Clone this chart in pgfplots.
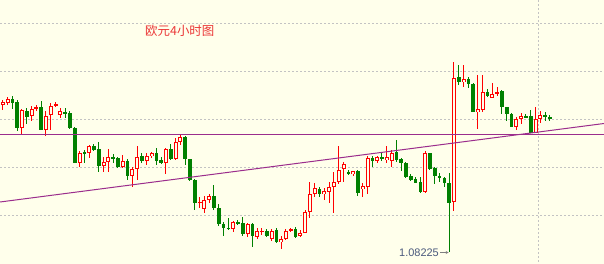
\documentclass[border=0pt]{standalone}
\usepackage{pgfplots}
\usepackage{pgfplotstable}
\pgfplotsset{compat=1.18}
\usetikzlibrary{arrows.meta}
\usepackage{fontspec}
\setmainfont{Liberation Sans}
\newfontfamily\cjk{Noto Sans CJK SC}
\definecolor{bgc}{RGB}{255,255,235}
\definecolor{upc}{RGB}{255,0,0}
\definecolor{dnc}{RGB}{0,128,0}
\definecolor{linec}{RGB}{155,45,140}
\definecolor{gridc}{RGB}{195,195,195}
\definecolor{titlec}{RGB}{235,55,55}
\definecolor{numc}{RGB}{75,90,125}

% pixel-based y (top = 0), x = pixel column
\pgfplotstableread{
x o h l c
2.7 105 100 110.5 102
7.5 102.7 97 104.7 99.3
21.9 128 109 134 110.5
31.5 116.3 106.3 120.7 109.3
36.3 109.3 105.3 110.7 107.3
45.9 129.7 111.3 135.5 116.3
50.7 115.3 103 130 106
55.5 105.5 102 107.3 104.5
60.3 114.7 108 118 111.3
79.5 162.7 150.7 166.7 152.7
89.1 153.3 145 157.7 146
103.5 166 156.7 171.7 162.3
108.3 162.3 149.3 171.7 157
122.7 167.3 155 168.3 160.7
132.3 176 166.7 186.7 169
137.1 169 146 180 156.7
146.7 161 152.7 165 155.5
151.5 155.7 151.5 157.7 153.3
165.9 162.5 147.7 174 149.2
175.5 159.3 138.3 160 142
180.3 142.3 134.3 145 137.2
199.5 202.7 196.7 208.3 201.5
204.3 209.3 195.7 213 199.8
209.1 200 194 203.3 196
233.1 229.2 220.5 231.5 222.2
247.5 234 222.7 236.5 224
257.1 236.5 227.5 238.5 231
261.9 231.8 227.5 235 231
271.5 239 228.5 240.5 230.5
281.1 241.7 236 249.3 239.3
285.9 239.3 229.3 240 231
290.7 230.7 228.3 232 229.3
300.3 236.3 230 237 232.5
305.1 232.5 210 233 211.7
309.9 211.7 181.7 218.3 194
314.7 194 183.3 196.7 188.3
324.3 194 188.3 200 191.3
329.1 191.7 181.7 203.3 186.7
333.9 186.7 172 213.3 181.7
338.7 182 146 184 169.5
343.5 169.3 161.5 182 163.8
353.1 174 170.5 175.5 171.3
362.7 189.3 182.7 196.7 186
367.5 186.5 156.3 194 157.7
377.1 161 156 162.5 157
386.7 160 146 163.3 157.3
391.5 160.7 150 166.7 152.7
425.1 191.7 150.5 193.3 153
453.9 201.7 62 210.5 77.5
463.5 82.3 65 86.7 79.3
477.9 112 75 129.3 109.3
482.7 110 74.5 111.7 92
492.3 97.7 82.7 98 94
497.1 94.3 87.3 95.7 92.3
516.3 126.7 116.7 130 119.3
521.1 119 112.7 124 116
535.5 132.7 107.3 133.3 119.3
540.3 119 111 123.3 115
}\bull

\pgfplotstableread{
x o h l c
12.3 99 96 108.7 102.7
17.1 102 100 131 128
26.7 111 108 124 117
41.1 107.3 101 130.3 129.5
65.1 112 108 118 114
69.9 113.3 111.3 129 128.2
74.7 127.7 127 163 162.7
84.3 152.5 150 163.3 153.5
93.9 146 144 150.7 150
98.7 149.3 141.7 171.7 166
113.1 156.7 154.3 162.7 159.3
117.9 158.3 156.7 168 167.3
127.5 160.5 159.3 180 175.8
141.9 156 153 162.5 161
156.3 153.3 148.3 165 160.5
161.1 160 157 163.5 162.7
170.7 149.2 144.3 160 158.5
185.1 136.8 135.7 165 159.3
189.9 159.3 158.5 181 180
194.7 180 179 210 203
213.9 196 185 209.5 208.3
218.7 208.3 203.5 226 224.2
223.5 224.2 221.7 235.5 228.3
228.3 227.7 218.3 230 228.7
237.9 222.5 219.5 225 223.5
242.7 222.8 216.7 235.5 233.7
252.3 224 223.3 247 236
266.7 230.5 229.3 237.3 235.5
276.3 229.5 228.3 243.3 241.7
295.5 228.7 227.3 238.3 236.7
319.5 189.3 187.3 196.7 194.3
348.3 171.7 170 175 174.2
357.9 171 170 196 193
372.3 157.7 156 166.7 161
381.9 156.7 153 161 159.3
396.3 151.7 140 161.7 160
401.1 158.8 158.3 170.7 163
405.9 162.5 161.7 178.3 176.7
410.7 176.2 174 181 180
415.5 178.7 177 183 182.5
420.3 181.5 176.7 192.7 191.7
429.9 153.3 153 169.5 168.5
434.7 167.5 166.7 184 175.7
439.5 175.5 173.3 182 178
444.3 178 176.7 187.3 183.3
449.1 183.3 172.5 251.7 202.5
458.7 77.3 64.5 85 81.7
468.3 78.5 76.7 88.3 84.3
473.1 84.2 83.3 112.5 111.8
487.5 92.3 89.3 96.7 96
501.9 90.7 90.5 114 107.3
506.7 107.3 106.7 120.7 114
511.5 114 113.3 127.3 126.7
525.9 116 114 118.5 117.3
530.7 116 110 133.3 132.7
545.1 115 111.7 120.7 116.7
549.9 117.3 115 120.7 118.7
}\bear

\begin{document}
\begin{tikzpicture}
\begin{axis}[
  width=604bp, height=264bp, scale only axis,
  xmin=0, xmax=604, ymin=0, ymax=264, y dir=reverse,
  xtick=\empty, ytick=\empty,
  axis line style={draw=none},
  axis background/.style={fill=bgc},
  clip=true,
  every axis plot/.append style={mark=none},
  candle/.style={draw=none, mark=none, forget plot},
]
% grid lines
\addplot[gridc, line width=0.7bp, dash pattern=on 2bp off 2bp] coordinates {(0,23) (604,23)};
\addplot[gridc, line width=0.7bp, dash pattern=on 2bp off 2bp] coordinates {(0,71) (604,71)};
\addplot[gridc, line width=0.7bp, dash pattern=on 2bp off 2bp] coordinates {(0,119.3) (604,119.3)};
\addplot[gridc, line width=0.7bp, dash pattern=on 2bp off 2bp] coordinates {(0,167.3) (604,167.3)};
\addplot[gridc, line width=0.7bp, dash pattern=on 2bp off 2bp] coordinates {(0,215.3) (604,215.3)};
\addplot[gridc, line width=0.7bp, dash pattern=on 2bp off 2bp] coordinates {(538.5,0) (538.5,264)};

% wicks
\addplot[candle, error bars/.cd, y dir=both, y explicit, error mark=none,
  error bar style={draw=upc, solid, line width=0.9bp}]
  table[x=x, y expr={(\thisrow{h}+\thisrow{l})/2}, y error expr={(\thisrow{l}-\thisrow{h})/2}] {\bull};
\addplot[candle, error bars/.cd, y dir=both, y explicit, error mark=none,
  error bar style={draw=dnc, solid, line width=0.9bp}]
  table[x=x, y expr={(\thisrow{h}+\thisrow{l})/2}, y error expr={(\thisrow{l}-\thisrow{h})/2}] {\bear};
% bear bodies
\addplot[candle, error bars/.cd, y dir=both, y explicit, error mark=none,
  error bar style={draw=dnc, solid, line width=3.6bp}]
  table[x=x, y expr={(\thisrow{o}+\thisrow{c})/2}, y error expr={max(abs(\thisrow{c}-\thisrow{o})/2,0.6)}] {\bear};
% bull bodies (outline + hollow)
\addplot[candle, error bars/.cd, y dir=both, y explicit, error mark=none,
  error bar style={draw=upc, solid, line width=4bp}]
  table[x=x, y expr={(\thisrow{o}+\thisrow{c})/2}, y error expr={max(abs(\thisrow{c}-\thisrow{o})/2,0.6)}] {\bull};
\addplot[candle, error bars/.cd, y dir=both, y explicit, error mark=none,
  error bar style={draw=bgc, solid, line width=2bp}]
  table[x=x, y expr={(\thisrow{o}+\thisrow{c})/2}, y error expr={max(abs(\thisrow{c}-\thisrow{o})/2-1,0)}] {\bull};

% trend lines
\addplot[linec, line width=1.1bp] coordinates {(0,134.3) (604,134.3)};
\addplot[linec, line width=1bp] coordinates {(0,202) (604,123.5)};

% low annotation arrow
\addplot[gray, line width=0.7bp, -{Stealth[length=3bp,width=3bp]}] coordinates {(440,252.5) (448.6,252.5)};
\node[anchor=base west, inner sep=0pt, text=numc, font=\fontsize{11}{11}\selectfont] at (axis cs:399,256.5) {1.08225};

% title
\node[anchor=west, inner sep=0pt, text=titlec, font=\cjk\fontsize{12.5}{12.5}\selectfont] at (axis cs:145,31) {欧元4小时图};
\end{axis}
\end{tikzpicture}
\end{document}
